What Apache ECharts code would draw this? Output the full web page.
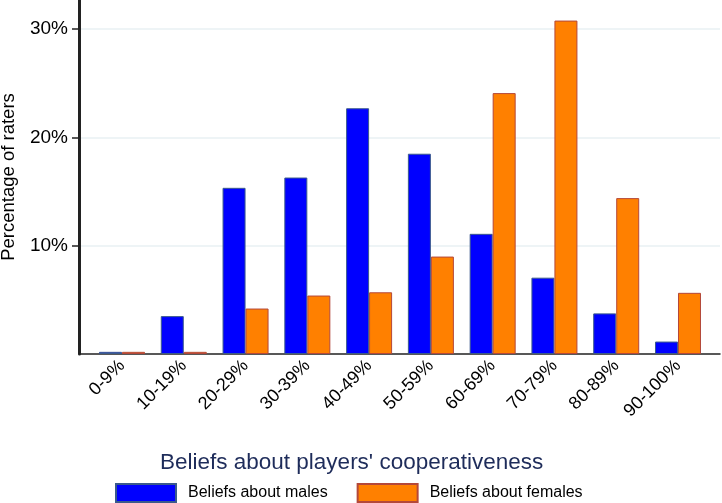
<!DOCTYPE html>
<html>
<head>
<meta charset="utf-8">
<script src="https://cdn.jsdelivr.net/npm/echarts@6/dist/echarts.min.js"></script>
<style>html,body{margin:0;padding:0;background:#fff}#c{width:722px;height:503px}</style>
</head>
<body>
<div id="c"></div>
<script>
var categories = ['0-9%','10-19%','20-29%','30-39%','40-49%','50-59%','60-69%','70-79%','80-89%','90-100%'];
var males = [0.2, 3.5, 15.35, 16.3, 22.7, 18.5, 11.1, 7.05, 3.75, 1.15];
var females = [0.2, 0.2, 4.2, 5.4, 5.7, 9.0, 24.1, 30.8, 14.4, 5.65];
var yTicks = [10, 20, 30];
var FONT = 'Liberation Sans, Arial, Helvetica, sans-serif';

function pts(arr){ return arr.map(function(v,i){ return [i, v]; }); }

var chart = echarts.init(document.getElementById('c'), null, {renderer:'canvas'});
chart.setOption({
  animation: false,
  backgroundColor: '#ffffff',
  textStyle: {fontFamily: FONT},
  title: {
    text: "Beliefs about players' cooperativeness",
    left: 160, top: 451, padding: 0,
    textStyle: {fontFamily: FONT, fontSize: 22.5, fontWeight: 'normal', color: '#1e2c5a'}
  },
  legend: {
    left: 115, top: 483, padding: 0,
    icon: 'rect',
    itemWidth: 60, itemHeight: 18, itemGap: 29,
    textStyle: {fontFamily: FONT, fontSize: 16, color: '#000', padding: [0,0,0,7]},
    data: ['Beliefs about males', 'Beliefs about females']
  },
  grid: {left: 79, right: 2, top: 0, bottom: 149, containLabel: false, outerBoundsMode: 'none'},
  xAxis: {
    type: 'value',
    min: -0.696, max: 9.68,
    axisLine: {show: true, lineStyle: {color: '#222', width: 1.5}},
    axisTick: {show: false},
    splitLine: {show: false},
    axisLabel: {
      customValues: categories.map(function(c,i){return i;}),
      formatter: function(v){ return categories[Math.round(v)]; },
      rotate: 45, margin: 9,
      fontFamily: FONT, fontSize: 18, color: '#000'
    }
  },
  yAxis: {
    type: 'value',
    position: 'left',
    min: 0, max: 32.7,
    name: 'Percentage of raters',
    nameLocation: 'middle', nameGap: 61,
    nameTextStyle: {fontFamily: FONT, fontSize: 18.5, color: '#000'},
    axisLine: {show: true, onZero: false, lineStyle: {color: '#222222', width: 3}},
    axisTick: {show: true, length: 7, customValues: yTicks, lineStyle: {color: '#222', width: 1.5}},
    axisLabel: {
      customValues: yTicks, margin: 11,
      formatter: function(v){ return v + '%'; },
      fontFamily: FONT, fontSize: 19, color: '#000'
    },
    splitLine: {show: true, lineStyle: {color: '#e8f0f3', width: 1.5}}
  },
  series: [
    {
      name: 'Beliefs about males', type: 'bar', data: pts(males),
      barWidth: 23, barGap: '0%',
      itemStyle: {color: '#0000ff', borderColor: '#3b5a8c', borderWidth: 1}
    },
    {
      name: 'Beliefs about females', type: 'bar', data: pts(females),
      barWidth: 23, barGap: '0%',
      itemStyle: {color: '#ff8000', borderColor: '#b4483a', borderWidth: 1}
    }
  ]
});
</script>
</body>
</html>
